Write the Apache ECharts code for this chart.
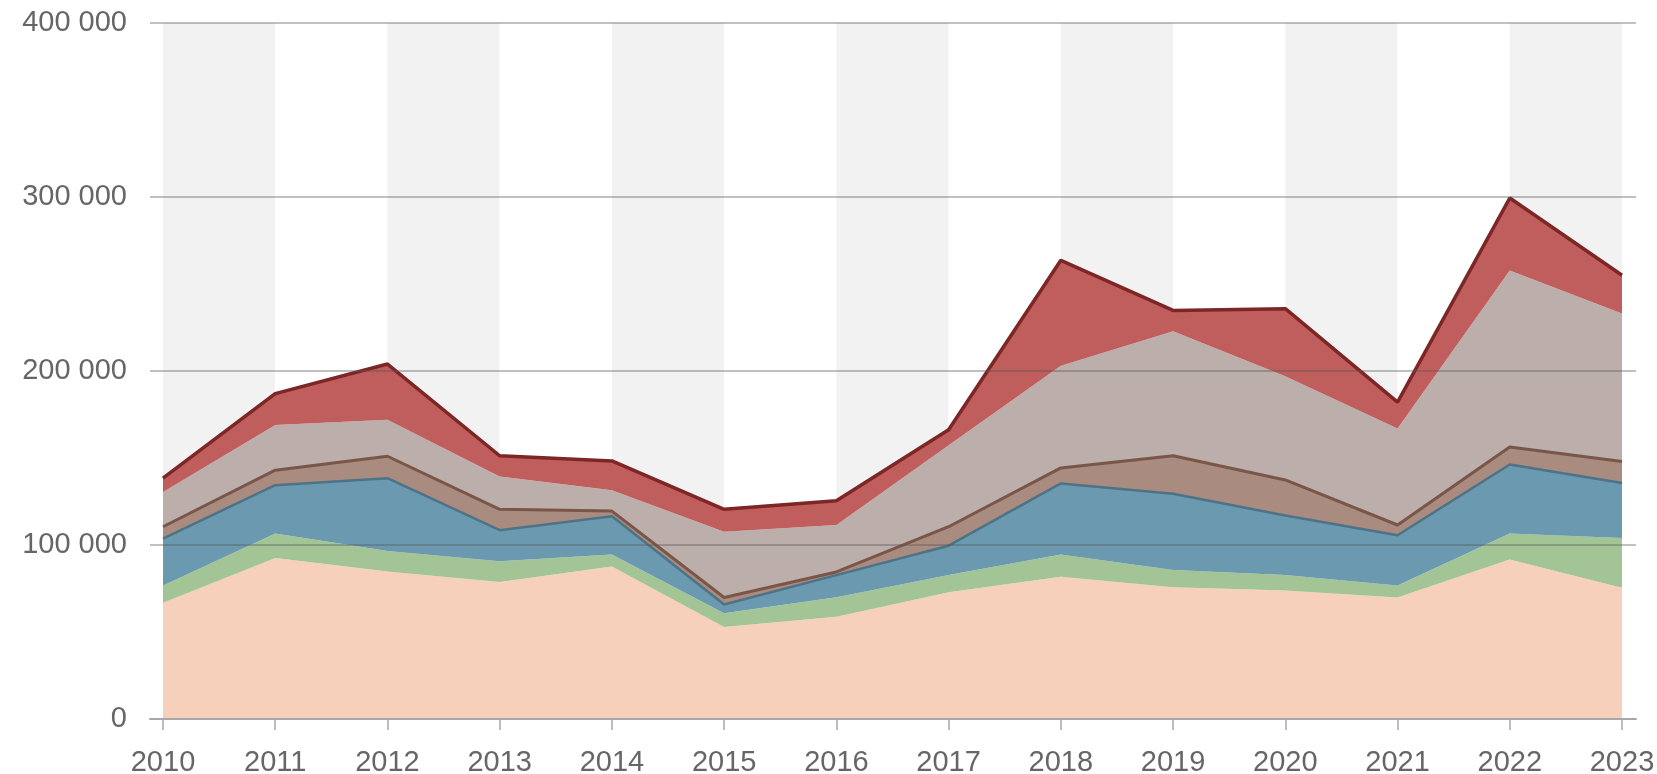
<!DOCTYPE html>
<html>
<head>
<meta charset="utf-8">
<title>Stacked area 2010-2023</title>
<script src="https://cdn.jsdelivr.net/npm/echarts@6/dist/echarts.min.js"></script>
<style>
  html, body { margin: 0; padding: 0; background: #fff; }
  #chart { width: 1657px; height: 774px; }
</style>
</head>
<body>
<div id="chart"></div>
<script>
// --- data ---
const years = ['2010', '2011', '2012', '2013', '2014', '2015', '2016',
               '2017', '2018', '2019', '2020', '2021', '2022', '2023'];

// stacked from bottom to top
const peach = [66800, 92600, 84700, 78700, 87700, 52900, 58800, 72800, 81700, 75700, 73800, 69800, 91700, 75400];
const green = [9900, 14000, 11900, 12000, 6900, 7900, 11200, 9900, 12900, 10000, 8900, 6900, 14900, 28600];
const blue  = [26900, 27800, 41800, 17800, 21900, 5000, 12700, 16900, 40800, 43700, 34300, 28900, 39700, 31600];
const brown = [6900, 8600, 12600, 12000, 3000, 4000, 1800, 10900, 8900, 21900, 20400, 5900, 10000, 12400];
const mauve = [19900, 26000, 21000, 18900, 11900, 37800, 27000, 46800, 58700, 71600, 59600, 55500, 101400, 85000];
const red   = [8000, 18000, 32000, 11900, 16900, 12900, 13900, 8900, 60600, 11900, 38800, 15100, 41700, 22000];

const yTicks = [0, 100000, 200000, 300000, 400000];

const chart = echarts.init(document.getElementById('chart'));

const FONT = '"Liberation Sans", Arial, sans-serif';
const TEXT = '#666666';

function area(name, data, fill, lineColor, lineWidth) {
  return {
    name: name,
    type: 'line',
    stack: 'total',
    xAxisIndex: 0,
    yAxisIndex: 0,
    data: data,
    symbol: 'none',
    lineStyle: { color: lineColor || fill, width: lineWidth || 0 },
    areaStyle: { color: fill, opacity: 1 },
    itemStyle: { color: fill },
    emphasis: { disabled: true }
  };
}

const option = {
  backgroundColor: '#ffffff',
  animation: false,
  grid: [
    // plot area (series + year bands)
    { left: 163, right: 35, top: 23, bottom: 55, outerBoundsMode: 'none' },
    // slightly wider grid for the horizontal rules and value labels
    { left: 150, right: 21, top: 23, bottom: 55, outerBoundsMode: 'none' }
  ],
  xAxis: [
    {
      type: 'category',
      gridIndex: 0,
      data: years,
      boundaryGap: false,
      z: 0,
      axisLine: { show: false },
      axisTick: { show: true, length: 11, lineStyle: { color: '#a8a8a8', width: 1.5 } },
      axisLabel: { color: TEXT, fontSize: 29, fontFamily: FONT, margin: 29 },
      splitLine: { show: false },
      splitArea: { show: true, areaStyle: { color: ['#f2f2f2', '#ffffff'] } }
    },
    {
      type: 'value',
      gridIndex: 1,
      min: 0,
      max: 1,
      z: 10,
      axisLine: { show: true, onZero: false, lineStyle: { color: '#a8a8a8', width: 2 } },
      axisTick: { show: false },
      axisLabel: { show: false },
      splitLine: { show: false }
    }
  ],
  yAxis: [
    {
      type: 'value',
      gridIndex: 0,
      min: yTicks[0],
      max: yTicks[yTicks.length - 1],
      interval: 100000,
      axisLine: { show: false },
      axisTick: { show: false },
      axisLabel: { show: false },
      splitLine: { show: false }
    },
    {
      type: 'value',
      gridIndex: 1,
      min: yTicks[0],
      max: yTicks[yTicks.length - 1],
      interval: 100000,
      z: 10,
      axisLine: { show: false },
      axisTick: { show: false },
      axisLabel: {
        color: TEXT,
        fontSize: 29,
        fontFamily: FONT,
        margin: 23,
        padding: [10, 0, 0, 0],
        formatter: v => (v === 0 ? '0' : (v / 1000) + ' 000')
      },
      splitLine: { show: true, lineStyle: { color: 'rgba(90, 90, 90, 0.5)', width: 1.6 } }
    }
  ],
  series: [
    area('peach', peach, '#f6d0bb'),
    area('green', green, '#a3c596'),
    area('blue', blue, '#6a99b0', '#4d7387', 2.5),
    area('brown', brown, '#a98b80', '#7a5649', 3),
    area('mauve', mauve, '#bbaeab'),
    area('red', red, '#bf5e5c', '#7c2626', 3.5)
  ]
};

chart.setOption(option);
</script>
</body>
</html>
